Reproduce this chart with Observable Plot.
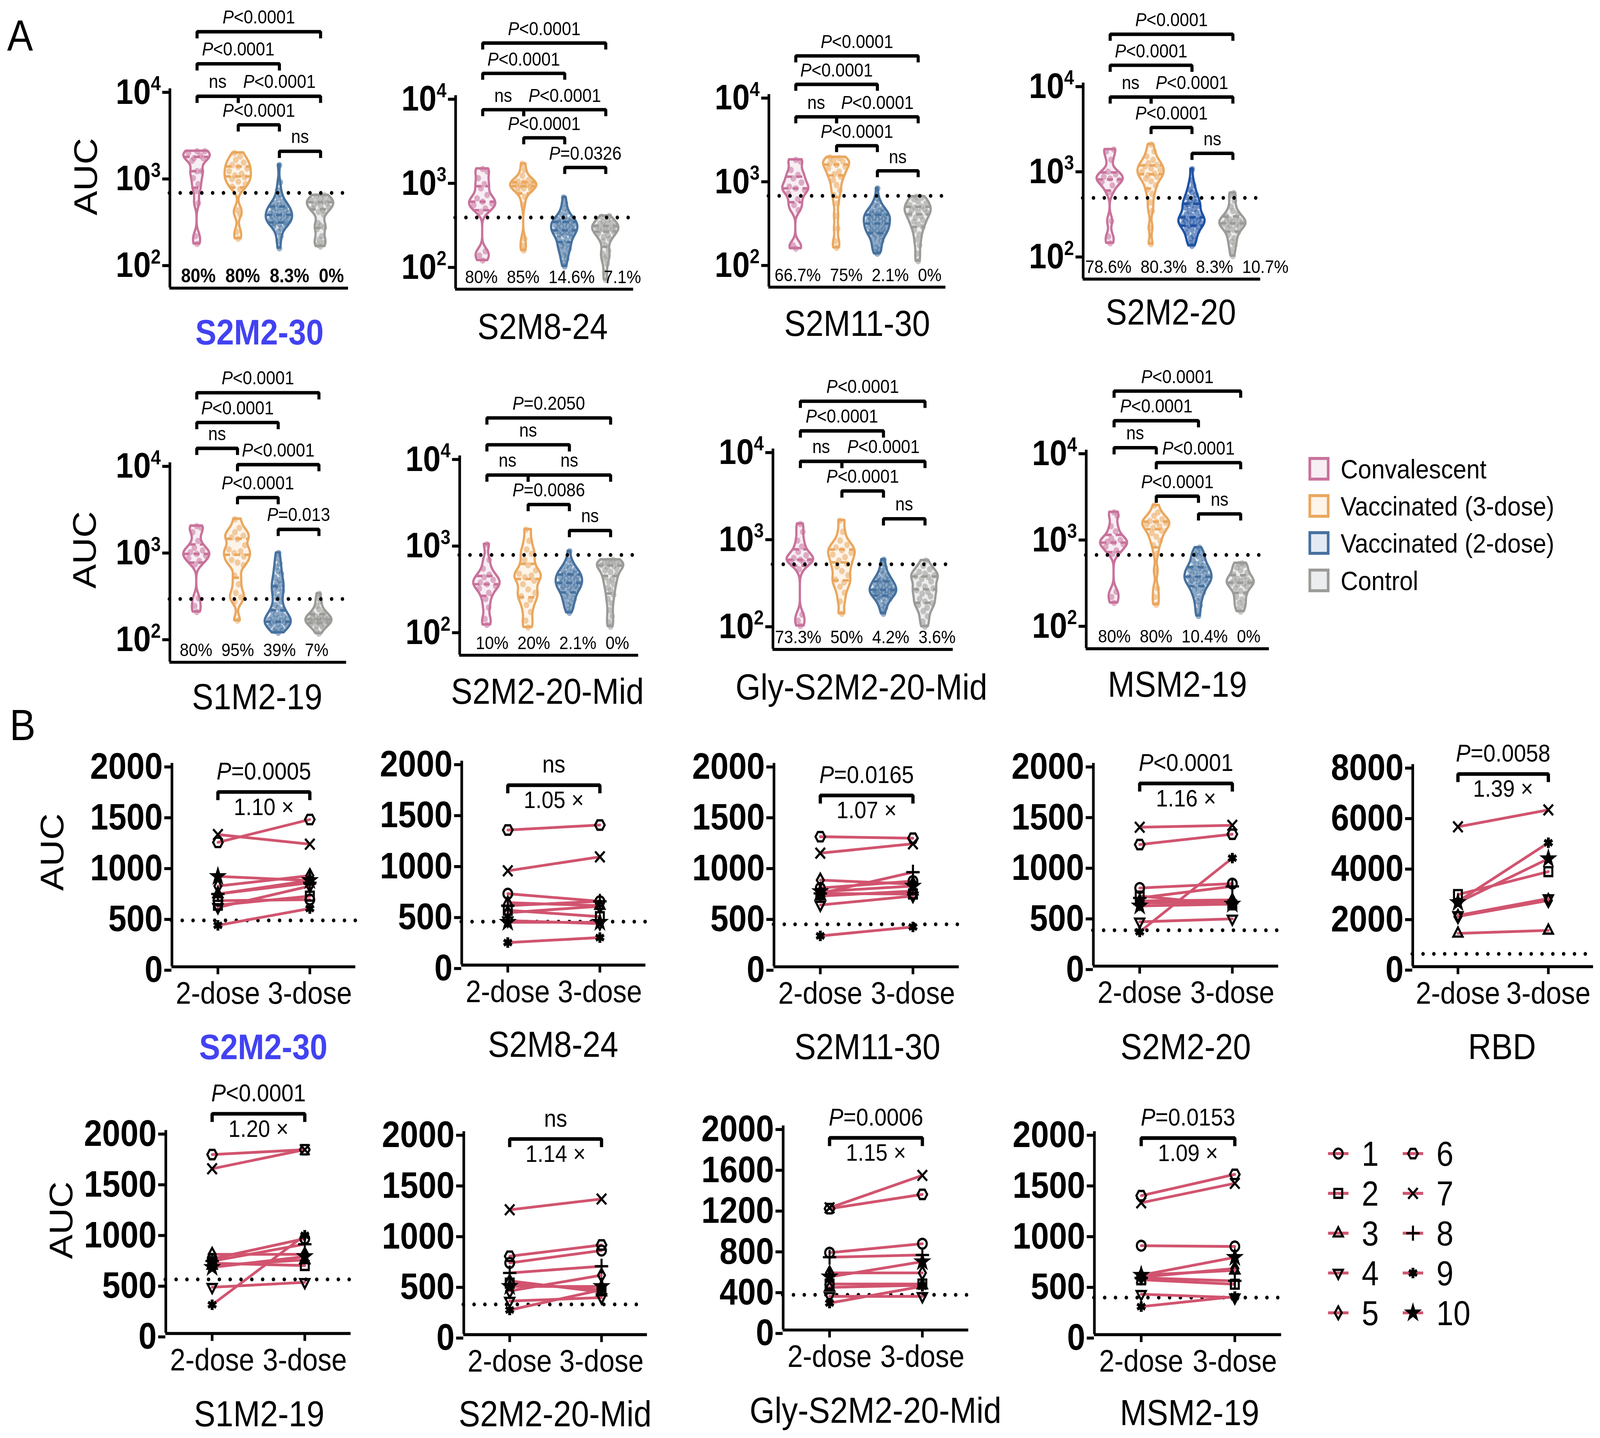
<!DOCTYPE html>
<html><head><meta charset="utf-8">
<script src="https://cdn.jsdelivr.net/npm/d3@7"></script>
<script src="https://cdn.jsdelivr.net/npm/@observablehq/plot@0.6"></script>
<style>
html,body{margin:0;padding:0;background:#fff;overflow:hidden;}
#stage{position:absolute;left:0;top:0;width:1568px;height:1253.4px;transform-origin:0 0;font-family:"Liberation Sans",Arial,Helvetica,sans-serif;}
#stage svg{position:absolute;overflow:visible;}
</style></head><body><div id="stage"></div>
<script>
const FONT = '"Liberation Sans", Arial, Helvetica, sans-serif';

// ================= DATA: panel A (violins) =================
const groupNames = ["Convalescent", "Vaccinated (3-dose)", "Vaccinated (2-dose)", "Control"];
const panelA_titles = ["S2M2-30","S2M8-24","S2M11-30","S2M2-20","S1M2-19","S2M2-20-Mid","Gly-S2M2-20-Mid","MSM2-19"];
// log10(AUC) of every subject; order: Convalescent, Vaccinated (3-dose), Vaccinated (2-dose), Control
const violin_S2M2_30 = [
 [3.28,3.28,3.26,3.23,3.2,3.2,3.17,3.05,3.05,2.97,2.9,2.82,2.68,2.3,2.21],
 [3.26,3.22,3.18,3.15,3.12,3.1,3.08,3.05,3.02,3.0,2.98,2.96,2.93,2.9,2.87,2.84,2.6,2.55,2.35,2.27],
 [3.12,2.92,2.83,2.78,2.74,2.7,2.68,2.66,2.65,2.64,2.63,2.62,2.6,2.59,2.58,2.57,2.56,2.55,2.54,2.53,2.52,2.51,2.5,2.49,2.48,2.47,2.46,2.45,2.44,2.43,2.41,2.39,2.35,2.3,2.24,2.16],
 [2.77,2.76,2.74,2.72,2.71,2.7,2.69,2.68,2.66,2.65,2.63,2.62,2.6,2.58,2.55,2.45,2.42,2.4,2.38,2.3,2.26,2.22,2.2,2.18]
];
const violin_S2M8_24 = [
 [3.13,3.1,3.02,2.95,2.9,2.82,2.78,2.74,2.72,2.7,2.66,2.62,2.15,2.1,2.04],
 [3.19,3.12,3.05,3.0,2.98,2.97,2.96,2.95,2.94,2.93,2.92,2.91,2.9,2.88,2.85,2.8,2.7,2.3,2.22,2.16],
 [2.79,2.72,2.66,2.62,2.59,2.56,2.54,2.53,2.52,2.51,2.5,2.49,2.48,2.47,2.46,2.45,2.44,2.43,2.42,2.41,2.4,2.39,2.38,2.37,2.36,2.35,2.34,2.32,2.3,2.28,2.26,2.24,2.22,2.2,2.18,2.16,2.13,2.1,2.06,2.02,1.97],
 [2.57,2.56,2.52,2.5,2.49,2.48,2.46,2.45,2.44,2.43,2.42,2.41,2.4,2.39,2.38,2.36,2.34,2.32,2.3,2.27,2.22,2.16,2.12,2.09,2.06,2.0,1.9,1.81]
];
const violin_S2M11_30 = [
 [3.22,3.2,3.1,3.04,3.0,2.95,2.9,2.88,2.86,2.82,2.75,2.68,2.62,2.2,2.16],
 [3.25,3.24,3.22,3.2,3.18,3.16,3.14,3.12,3.08,3.05,3.02,2.98,2.92,2.86,2.8,2.7,2.55,2.4,2.25,2.17],
 [2.88,2.76,2.72,2.68,2.66,2.64,2.62,2.61,2.6,2.59,2.58,2.57,2.56,2.55,2.54,2.53,2.52,2.52,2.51,2.5,2.49,2.48,2.47,2.46,2.45,2.44,2.43,2.42,2.41,2.4,2.39,2.38,2.37,2.36,2.35,2.34,2.33,2.31,2.29,2.27,2.25,2.22,2.2,2.17,2.14,2.12,2.1],
 [2.78,2.77,2.75,2.72,2.7,2.68,2.66,2.65,2.63,2.62,2.6,2.59,2.57,2.55,2.53,2.5,2.48,2.45,2.42,2.38,2.33,2.27,2.2,2.1,2.01]
];
const violin_S2M2_20 = [
 [3.22,3.2,3.1,2.96,2.93,2.9,2.88,2.86,2.84,2.8,2.72,2.38,2.2,2.12],
 [3.28,3.2,3.14,3.1,3.06,3.04,3.02,3.0,2.98,2.96,2.94,2.92,2.9,2.88,2.85,2.8,2.75,2.7,2.6,2.5,2.3,2.11],
 [2.99,2.86,2.8,2.75,2.72,2.69,2.66,2.64,2.62,2.6,2.58,2.57,2.56,2.54,2.52,2.5,2.48,2.46,2.44,2.43,2.42,2.41,2.4,2.39,2.38,2.37,2.36,2.35,2.34,2.33,2.32,2.3,2.28,2.26,2.24,2.21,2.18,2.15,2.12,2.09],
 [2.71,2.68,2.62,2.55,2.5,2.47,2.44,2.42,2.4,2.39,2.38,2.37,2.36,2.35,2.34,2.33,2.32,2.3,2.28,2.25,2.22,2.18,2.14,2.1,2.04,1.97]
];
const violin_S1M2_19 = [
 [3.27,3.25,3.2,3.1,3.02,2.99,2.97,2.95,2.93,2.9,2.87,2.83,2.44,2.35,2.28],
 [3.35,3.25,3.2,3.16,3.14,3.12,3.05,3.0,2.98,2.96,2.92,2.88,2.85,2.82,2.7,2.6,2.5,2.45,2.4,2.18],
 [2.96,2.9,2.84,2.8,2.75,2.72,2.68,2.65,2.62,2.6,2.57,2.55,2.52,2.5,2.46,2.44,2.4,2.36,2.33,2.31,2.29,2.27,2.25,2.23,2.22,2.21,2.2,2.19,2.18,2.17,2.16,2.15,2.14,2.13,2.12,2.1,2.09,2.07,2.06,2.04],
 [2.49,2.44,2.4,2.35,2.31,2.28,2.26,2.24,2.23,2.22,2.21,2.2,2.2,2.19,2.19,2.18,2.18,2.17,2.16,2.15,2.14,2.13,2.12,2.1,2.07,2.03]
];
const violin_S2M2_20_Mid = [
 [2.98,2.8,2.7,2.63,2.6,2.57,2.54,2.52,2.5,2.47,2.42,2.35,2.25,2.12,2.05],
 [3.15,3.02,2.92,2.87,2.8,2.74,2.68,2.64,2.62,2.6,2.56,2.52,2.46,2.42,2.38,2.34,2.28,2.2,2.1,2.02],
 [2.9,2.8,2.76,2.73,2.71,2.69,2.68,2.66,2.65,2.64,2.63,2.62,2.61,2.6,2.59,2.58,2.57,2.56,2.55,2.54,2.53,2.52,2.51,2.5,2.49,2.48,2.47,2.46,2.45,2.43,2.41,2.39,2.37,2.35,2.33,2.31,2.28,2.25,2.22,2.19],
 [2.8,2.79,2.78,2.77,2.76,2.75,2.74,2.73,2.72,2.7,2.68,2.66,2.63,2.6,2.58,2.55,2.52,2.48,2.45,2.4,2.35,2.3,2.22,2.15,2.08,2.03]
];
const violin_Gly_S2M2_20_Mid = [
 [3.14,3.05,2.95,2.88,2.82,2.78,2.75,2.73,2.72,2.71,2.7,2.62,2.1,2.03,1.97],
 [3.18,3.05,2.95,2.9,2.87,2.84,2.81,2.79,2.76,2.72,2.68,2.65,2.6,2.55,2.5,2.47,2.42,2.35,2.25,2.11],
 [2.73,2.69,2.64,2.6,2.57,2.55,2.53,2.51,2.5,2.49,2.48,2.47,2.46,2.45,2.44,2.43,2.42,2.41,2.4,2.39,2.38,2.38,2.37,2.37,2.36,2.36,2.35,2.34,2.33,2.32,2.31,2.3,2.29,2.28,2.26,2.24,2.21,2.18,2.15,2.11],
 [2.72,2.66,2.62,2.59,2.57,2.55,2.54,2.53,2.51,2.48,2.45,2.42,2.4,2.38,2.36,2.34,2.31,2.28,2.25,2.23,2.21,2.18,2.14,2.08,2.02,1.96]
];
const violin_MSM2_19 = [
 [3.28,3.24,3.12,3.06,2.98,2.96,2.94,2.93,2.91,2.88,2.84,2.8,2.36,2.3,2.23],
 [3.36,3.28,3.24,3.2,3.18,3.17,3.16,3.14,3.12,3.1,3.07,3.04,3.0,2.95,2.9,2.8,2.6,2.4,2.3,2.21],
 [2.87,2.83,2.81,2.79,2.77,2.75,2.72,2.7,2.68,2.66,2.64,2.63,2.62,2.61,2.6,2.59,2.58,2.56,2.55,2.54,2.53,2.52,2.51,2.5,2.49,2.48,2.47,2.46,2.45,2.43,2.41,2.39,2.37,2.35,2.32,2.29,2.25,2.2,2.14,2.08],
 [2.69,2.68,2.67,2.64,2.61,2.58,2.56,2.53,2.51,2.5,2.49,2.48,2.47,2.46,2.45,2.44,2.42,2.4,2.37,2.34,2.3,2.27,2.23,2.2,2.16,2.13]
];
const panelA_values = [violin_S2M2_30, violin_S2M8_24, violin_S2M11_30, violin_S2M2_20, violin_S1M2_19, violin_S2M2_20_Mid, violin_Gly_S2M2_20_Mid, violin_MSM2_19];
const panelA_cutoff = [630, 357, 618, 450, 269, 720, 476, 612];
const panelA_percent = [
 ["80%","80%","8.3%","0%"], ["80%","85%","14.6%","7.1%"], ["66.7%","75%","2.1%","0%"], ["78.6%","80.3%","8.3%","10.7%"],
 ["80%","95%","39%","7%"], ["10%","20%","2.1%","0%"], ["73.3%","50%","4.2%","3.6%"], ["80%","80%","10.4%","0%"]
];
const comparisons = [[0,3],[0,2],[0,1],[1,3],[1,2],[2,3]];
const panelA_pvalues = [
 ["P<0.0001","P<0.0001","ns","P<0.0001","P<0.0001","ns"],
 ["P<0.0001","P<0.0001","ns","P<0.0001","P<0.0001","P=0.0326"],
 ["P<0.0001","P<0.0001","ns","P<0.0001","P<0.0001","ns"],
 ["P<0.0001","P<0.0001","ns","P<0.0001","P<0.0001","ns"],
 ["P<0.0001","P<0.0001","ns","P<0.0001","P<0.0001","P=0.013"],
 ["P=0.2050","ns","ns","ns","P=0.0086","ns"],
 ["P<0.0001","P<0.0001","ns","P<0.0001","P<0.0001","ns"],
 ["P<0.0001","P<0.0001","ns","P<0.0001","P<0.0001","ns"]
];

// ================= DATA: panel B (paired 2-dose vs 3-dose) =================
const subjects = [1,2,3,4,5,6,7,8,9,10];
const doseLabels = ["2-dose","3-dose"];
const panelB_titles = ["S2M2-30","S2M8-24","S2M11-30","S2M2-20","RBD","S1M2-19","S2M2-20-Mid","Gly-S2M2-20-Mid","MSM2-19"];
const twoDose_S2M2_30   = [650,606,716,584,794,1224,1301,716,408,889];
const threeDose_S2M2_30 = [661,695,849,794,897,1449,1206,827,573,849];
const twoDose_S2M8_24   = [700,538,612,436,514,1325,925,583,221,420];
const threeDose_S2M8_24 = [626,475,583,407,577,1374,1062,626,270,420];
const twoDose_S2M11_30   = [775,722,696,608,853,1280,1118,722,304,740];
const threeDose_S2M11_30 = [843,716,745,696,814,1265,1210,931,392,794];
const twoDose_S2M2_20   = [771,692,643,437,623,1200,1371,673,338,594];
const threeDose_S2M2_20 = [814,604,653,466,633,1302,1390,787,1066,612];
const twoDose_RBD   = [null,2856,1318,2028,1988,null,5538,null,2580,2540];
const threeDose_RBD = [null,3763,1436,2698,2620,null,6209,null,4907,4276];
const twoDose_S1M2_19   = [736,692,670,456,780,1764,1624,714,283,652];
const threeDose_S1M2_19 = [935,670,725,504,780,1812,1812,880,968,758];
const twoDose_S2M2_20_Mid   = [707,508,530,331,431,773,1231,608,243,475];
const threeDose_S2M2_20_Mid = [829,442,420,365,586,884,1337,674,442,475];
const twoDose_Gly   = [758,451,418,330,560,1190,1198,714,264,521];
const threeDose_Gly = [846,451,440,330,560,1330,1516,736,429,670];
const twoDose_MSM2_19   = [877,541,586,398,568,1370,1300,560,276,586];
const threeDose_MSM2_19 = [869,497,634,365,652,1580,1492,530,375,762];
const panelB_twoDose = [twoDose_S2M2_30, twoDose_S2M8_24, twoDose_S2M11_30, twoDose_S2M2_20, twoDose_RBD, twoDose_S1M2_19, twoDose_S2M2_20_Mid, twoDose_Gly, twoDose_MSM2_19];
const panelB_threeDose = [threeDose_S2M2_30, threeDose_S2M8_24, threeDose_S2M11_30, threeDose_S2M2_20, threeDose_RBD, threeDose_S1M2_19, threeDose_S2M2_20_Mid, threeDose_Gly, threeDose_MSM2_19];
const panelB_cutoff = [456, 426, 418, 354, 505, 533, 298, 345, 365];
const panelB_pvalue = ["P=0.0005","ns","P=0.0165","P<0.0001","P=0.0058","P<0.0001","ns","P=0.0006","P=0.0153"];
const panelB_fold = ["1.10 ×","1.05 ×","1.07 ×","1.16 ×","1.39 ×","1.20 ×","1.14 ×","1.15 ×","1.09 ×"];
const panelB_yTicks = [
 [0,500,1000,1500,2000],[0,500,1000,1500,2000],[0,500,1000,1500,2000],[0,500,1000,1500,2000],
 [0,2000,4000,6000,8000],[0,500,1000,1500,2000],[0,500,1000,1500,2000],[0,400,800,1200,1600,2000],[0,500,1000,1500,2000]
];

// ================= STYLE / LAYOUT =================
const groupStroke = ["#c8729b", "#eaa75e", "#46719e", "#9b9b97"];
const groupFill   = ["#f7eef4", "#fdf4ea", "#e3eaf3", "#ecedee"];
const PINK = "#d1546f";
const BLUE_TITLE = "#4242f2";
const layoutA = [
 {box:[166.4,341.5,76.6,227.6], br:[4.66,4.29,3.915,3.915,3.585,3.28], pctX:-0.39, bold:true},
 {box:[445.8,620.3,83,229.6],   br:[4.627,4.267,3.835,3.835,3.5,3.147], pctX:-0.43},
 {box:[753.2,926.7,81.7,227.6], br:[4.463,4.123,3.735,3.735,3.39,3.09], pctX:-0.52},
 {box:[1061,1235,72.3,220.8],   br:[4.574,4.21,3.837,3.837,3.48,3.176], pctX:-0.61, stroke:[null,null,"#1f52a3",null], fill:[null,null,"#dce5f3",null]},
 {box:[165.8,339,402.5,553.6],  br:[4.81,4.466,4.168,3.98,3.6,3.233], pctX:-0.42},
 {box:[449.6,625,397.3,548.3],  br:[4.44,4.13,3.78,3.78,3.44,3.14], pctX:-0.27},
 {box:[756.8,933.5,391,542.8],  br:[4.55,4.21,3.86,3.86,3.52,3.2], pctX:-0.61},
 {box:[1063.5,1243,392.4,542.8],br:[4.686,4.343,4.03,3.857,3.468,3.263], pctX:-0.38}
];
const layoutB = [
 {box:[168.4,348.6,665.2,842.4], br:1720},
 {box:[452,632.5,662.8,840.5], br:1765},
 {box:[758.4,940,665.4,842.6], br:1686},
 {box:[1070.8,1252.4,665.4,842], br:1803},
 {box:[1383.6,1560.8,665.9,842], br:7629},
 {box:[162.2,343.8,985.1,1161.9], br:2166},
 {box:[454.3,634.3,985.5,1162.3], br:1929},
 {box:[766.8,948.7,980.6,1158.4], br:1884},
 {box:[1072.4,1255.9,985.5,1162.3], br:1938}
];

// fit the 1568 x 1253.4 design onto the whole viewport
const stageEl = document.getElementById("stage");
const vw = window.innerWidth || document.documentElement.clientWidth;
const vh = window.innerHeight || document.documentElement.clientHeight;
stageEl.style.transform = `scale(${vw / 1568}, ${vh / 1253.4})`;
const stage = d3.select(stageEl);
function place(svg, left, top) { svg.style.position = "absolute"; svg.style.left = left + "px"; svg.style.top = top + "px"; stageEl.appendChild(svg); }
const plotStyle = {background: "transparent", overflow: "visible", fontFamily: FONT, color: "black"};

// symbols
function poly(pts) { return {draw(ctx, size) { const r = Math.sqrt(size / Math.PI); pts.forEach(([a, b], i) => i ? ctx.lineTo(a * r, b * r) : ctx.moveTo(a * r, b * r)); ctx.closePath(); }}; }
const hexPts = [[1.1,0],[0.55,-0.95],[-0.55,-0.95],[-1.1,0],[-0.55,0.95],[0.55,0.95]];
const SYM = ["circle", poly([[-0.9,-0.9],[0.9,-0.9],[0.9,0.9],[-0.9,0.9]]), poly([[0,-1.2],[1.05,0.65],[-1.05,0.65]]),
  poly([[0,1.2],[1.05,-0.65],[-1.05,-0.65]]), poly([[0,-1.3],[0.8,0],[0,1.3],[-0.8,0]]), poly(hexPts), "times", "plus", "asterisk", "star"];
function symMarks(data, si) {
  return Plot.dot(data, {x: "x", y: "y", r: si === 9 ? 3.6 : 4.3, symbol: SYM[si], stroke: "black", strokeWidth: si === 8 ? 2.8 : 2, fill: si === 9 ? "black" : "none"});
}

// ================= PANEL A =================
const BW = 0.06, HALF = 0.32, NGRID = 80;
const SPREAD = [0, -0.5, 0.5, -0.25, 0.25, -0.7, 0.7];
function drawViolinPanel(pi) {
  const L = layoutA[pi];
  const [X0, X1, Y4, Y2] = L.box;
  const dec = (Y2 - Y4) / 2;
  const ymin = 10 ** 1.7, ymax = 1e4;
  const yBot = Y2 + 0.3 * dec;
  const ml = 80, mr = 50, mt = 125, mb = 20;
  const xd = [-0.66, 3.68];
  const width = ml + (X1 - X0) + mr, height = mt + (yBot - Y4) + mb;
  const marks = [];
  panelA_values[pi].forEach((vals, gi) => {
    const stroke = (L.stroke && L.stroke[gi]) || groupStroke[gi];
    const fill = (L.fill && L.fill[gi]) || groupFill[gi];
    const s = vals.slice().sort(d3.ascending);
    const lo = s[0], hi = s[s.length - 1];
    const dens = y => d3.sum(s, v => Math.exp(-0.5 * ((y - v) / BW) ** 2));
    const grid = d3.range(NGRID + 1).map(i => lo + (hi - lo) * i / NGRID);
    const mx = d3.max(grid, dens);
    const hw = y => dens(y) / mx * HALF;
    const outline = grid.map(y => ({y: 10 ** y, x1: gi - hw(y), x2: gi + hw(y)}));
    const quart = [0.25, 0.5, 0.75].map(q => { const y = d3.quantile(s, q); return {y: 10 ** y, x1: gi - hw(y), x2: gi + hw(y)}; });
    const dots = s.map((v, k) => ({y: 10 ** v, x: gi + hw(v) * SPREAD[k % SPREAD.length]}));
    marks.push(Plot.areaX(outline, {x1: "x1", x2: "x2", y: "y", fill, stroke, strokeWidth: 2.2, strokeLinejoin: "round"}));
    marks.push(Plot.dot(dots, {x: "x", y: "y", r: 2.8, fill: stroke, fillOpacity: 0.55}));
    marks.push(Plot.ruleY(quart, {y: "y", x1: "x1", x2: "x2", stroke, strokeWidth: 2.2, strokeDasharray: "6 4"}));
  });
  marks.push(Plot.ruleY([panelA_cutoff[pi]], {x1: xd[0], x2: xd[1], strokeWidth: 3.4, strokeDasharray: "0 10.6", strokeLinecap: "round"}));
  const bdata = [];
  const T = 0.077;
  comparisons.forEach(([i, j], k) => {
    const lv = L.br[k];
    bdata.push({k, x: i, y: 10 ** (lv - T)}, {k, x: i, y: 10 ** lv}, {k, x: j, y: 10 ** lv}, {k, x: j, y: 10 ** (lv - T)});
  });
  marks.push(Plot.line(bdata, {x: "x", y: "y", z: "k", strokeWidth: 3, strokeLinejoin: "miter", strokeLinecap: "butt"}));
  marks.push(Plot.text(comparisons, {x: d => (d[0] + d[1]) / 2, y: (d, k) => 10 ** (L.br[k] + 0.165), text: (d, k) => panelA_pvalues[pi][k], fontSize: 16.5, lineAnchor: "middle"}));
  marks.push(Plot.ruleX([xd[0]], {y1: ymin, y2: ymax, strokeWidth: 2.6}));
  marks.push(Plot.ruleY([ymin], {x1: xd[0], x2: xd[1], strokeWidth: 2.6}));
  marks.push(Plot.axisY({ticks: [1e2, 1e3, 1e4], tickFormat: d => "10^" + Math.round(Math.log10(d)), tickSize: 7, tickPadding: 2, strokeWidth: 2.6, fontSize: 31, fontWeight: "bold", dy: 3, label: null}));
  marks.push(Plot.text([panelA_percent[pi].join("\u00a0\u00a0")], {x: L.pctX, y: 10 ** 1.84, text: d => d, textAnchor: "start", lineAnchor: "middle", fontSize: L.bold ? 17 : 16, fontWeight: L.bold ? "bold" : "normal"}));
  const svg = Plot.plot({width, height, marginLeft: ml, marginRight: mr, marginTop: mt, marginBottom: mb,
    x: {domain: xd, axis: null}, y: {type: "log", domain: [ymin, ymax]}, style: plotStyle, marks});
  place(svg, X0 - ml, Y4 - mt);
}

// ================= PANEL B =================
function drawPairedPanel(bi) {
  const L = layoutB[bi];
  const [X0, X1, Yt, Y0] = L.box;
  const ticks = panelB_yTicks[bi];
  const ymax = ticks[ticks.length - 1];
  const ml = 110, mr = 25, mt = 90, mb = 60;
  const xd = [-0.5, 1.5];
  const width = ml + (X1 - X0) + mr, height = mt + (Y0 - Yt) + mb;
  const d2 = panelB_twoDose[bi], d3v = panelB_threeDose[bi];
  const pts = [];
  subjects.forEach((s, i) => { if (d2[i] == null) return; pts.push({s: i, x: 0, y: d2[i]}, {s: i, x: 1, y: d3v[i]}); });
  const marks = [];
  marks.push(Plot.ruleY([panelB_cutoff[bi]], {x1: xd[0], x2: xd[1], strokeWidth: 3.4, strokeDasharray: "0 10.6", strokeLinecap: "round"}));
  marks.push(Plot.line(pts, {x: "x", y: "y", z: "s", stroke: PINK, strokeWidth: 2.4}));
  subjects.forEach((s, i) => { const p = pts.filter(d => d.s === i); if (p.length) marks.push(symMarks(p, i)); });
  marks.push(Plot.ruleX([xd[0]], {y1: 0, y2: ymax, strokeWidth: 2.6}));
  marks.push(Plot.ruleY([0], {x1: xd[0], x2: xd[1], strokeWidth: 2.6}));
  marks.push(Plot.axisY({ticks, tickFormat: d => String(d), tickSize: 7, tickPadding: 2, strokeWidth: 2.6, fontSize: 32, fontWeight: "bold", dy: 3, label: null}));
  marks.push(Plot.axisX({ticks: [0, 1], tickFormat: i => doseLabels[i], tickSize: 7, tickPadding: 6, strokeWidth: 2.6, fontSize: 27, label: null}));
  const lv = L.br, t = 0.04 * ymax;
  marks.push(Plot.line([{x: 0, y: lv - t}, {x: 0, y: lv}, {x: 1, y: lv}, {x: 1, y: lv - t}], {x: "x", y: "y", strokeWidth: 3.2, strokeLinejoin: "miter", strokeLinecap: "butt"}));
  marks.push(Plot.text([panelB_pvalue[bi]], {x: 0.5, y: lv + 0.1 * ymax, text: d => d, fontSize: 21.5, lineAnchor: "middle"}));
  marks.push(Plot.text([panelB_fold[bi]], {x: 0.5, y: lv - 0.075 * ymax, text: d => d, fontSize: 21, lineAnchor: "middle"}));
  const svg = Plot.plot({width, height, marginLeft: ml, marginRight: mr, marginTop: mt, marginBottom: mb,
    x: {domain: xd}, y: {domain: [0, ymax]}, style: plotStyle, marks});
  place(svg, X0 - ml, Yt - mt);
}

function drawLegendB() {
  const colX = [1311.3, 1384.5], rowY = [1005, 1143.8];
  const ml = 20, mr = 70, mt = 20, mb = 20;
  const width = ml + (colX[1] - colX[0]) + mr, height = mt + (rowY[1] - rowY[0]) + mb;
  const items = subjects.map((s, i) => ({s: i, label: String(s), x: Math.floor(i / 5), y: i % 5}));
  const marks = [Plot.link(items, {x1: d => d.x - 0.137, x2: d => d.x + 0.137, y1: "y", y2: "y", stroke: PINK, strokeWidth: 2.6})];
  items.forEach((d, i) => marks.push(symMarks([d], i)));
  marks.push(Plot.text(items, {x: "x", y: "y", text: "label", dx: 23, dy: 1, textAnchor: "start", lineAnchor: "middle", fontSize: 30}));
  const svg = Plot.plot({width, height, marginLeft: ml, marginRight: mr, marginTop: mt, marginBottom: mb,
    x: {domain: [0, 1], axis: null}, y: {domain: [0, 4], reverse: true, axis: null}, style: plotStyle, marks});
  place(svg, colX[0] - ml, rowY[0] - mt);
}

// ================= overlay labels =================
const overlay = stage.append("svg").attr("width", 1568).attr("height", 1253).style("left", "0px").style("top", "0px").attr("font-family", FONT);
function label(x, y, str, o = {}) {
  const fs = o.size || 31.5;
  const t = overlay.append("text").attr("font-size", fs).attr("font-weight", o.weight || "normal").attr("fill", o.color || "#000").attr("text-anchor", o.anchor || "middle").text(str);
  if (o.rotate) t.attr("transform", `translate(${x},${y}) rotate(-90)`).attr("x", 0).attr("y", 0.358 * fs);
  else t.attr("x", x).attr("y", y + 0.358 * fs);
}
label(7, 30.3, "A", {size: 38, anchor: "start"});
label(9.5, 631.4, "B", {size: 38, anchor: "start"});
const titleA = [[254.3,289.2],[531.8,284.3],[840,281.4],[1147.4,271.6],[252,607],[536.5,602],[844.2,598.5],[1153.9,596]];
titleA.forEach(([x, y], i) => label(x, y, panelA_titles[i], i === 0 ? {weight: "bold", color: BLUE_TITLE, size: 31} : {}));
const titleB = [[258,912],[542,910],[850,912],[1162,912],[1472,912],[254,1232],[544,1232],[858,1229],[1165.8,1231]];
titleB.forEach(([x, y], i) => label(x, y, panelB_titles[i], i === 0 ? {weight: "bold", color: BLUE_TITLE, size: 31} : {}));
[[83.6,154],[82.5,479.3],[50.6,742.7],[59.3,1063.6]].forEach(([x, y]) => label(x, y, "AUC", {size: 32, rotate: true}));
const legRows = [408.6, 441, 473.3, 505.9];
groupNames.forEach((g, i) => {
  overlay.append("rect").attr("x", 1283.6).attr("y", legRows[i] - 9).attr("width", 18).attr("height", 18)
    .attr("fill", groupFill[i]).attr("stroke", groupStroke[i]).attr("stroke-width", 2.6);
  label(1313.8, legRows[i], g, {size: 23.6, anchor: "start"});
});

layoutA.forEach((_, i) => drawViolinPanel(i));
layoutB.forEach((_, i) => drawPairedPanel(i));
drawLegendB();

// rich text: superscript exponents and italic P
const TICKA = 31;
stage.selectAll('g[aria-label="y-axis tick label"]').attr("font-weight", "bold");
stage.selectAll("svg text").each(function () {
  const t = this.textContent;
  let m = t.match(/^10\^(\d)$/);
  if (m) { const el = d3.select(this); el.text(null); el.append("tspan").text("10"); el.append("tspan").attr("dy", -0.38 * TICKA).attr("font-size", 0.56 * TICKA).text(m[1]); return; }
  m = t.match(/^P([<=].*)$/);
  if (m) { const el = d3.select(this); el.text(null); el.append("tspan").attr("font-style", "italic").text("P"); el.append("tspan").text(m[1]); }
});
</script></body></html>
